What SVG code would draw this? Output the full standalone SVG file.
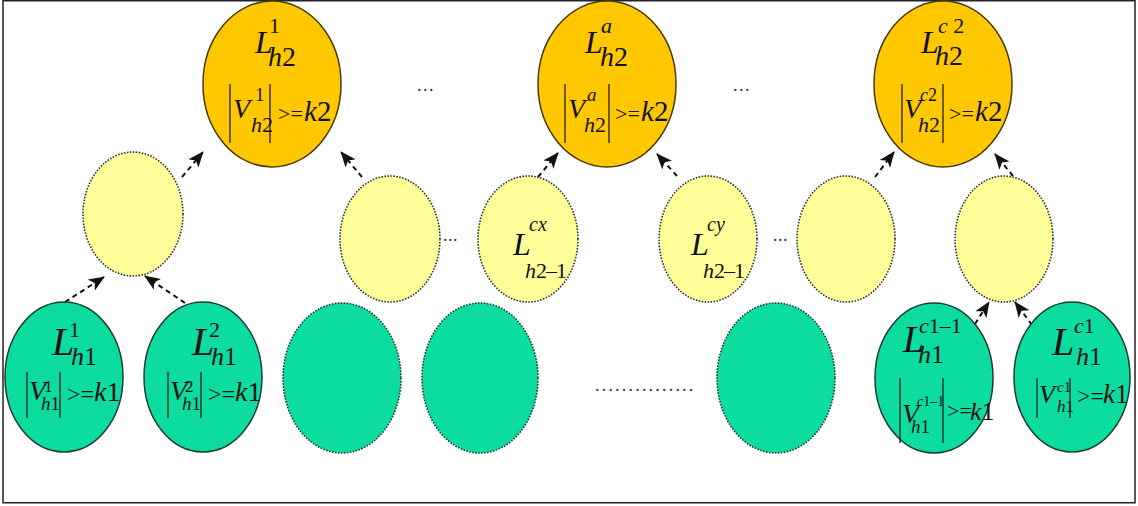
<svg xmlns="http://www.w3.org/2000/svg" width="1138" height="506" viewBox="0 0 1138 506" font-family="'Liberation Serif','Times New Roman','DejaVu Serif',serif">
<style>
text{font-family:'Liberation Serif','Times New Roman','DejaVu Serif',serif;fill:#111;}
.i{font-style:italic;}
.or{fill:#FFC800;stroke:#4a3a00;stroke-width:1.5;}
.ye{fill:#FFFF99;stroke:#333;stroke-width:1.6;stroke-dasharray:1.6 1.4;}
.gs{fill:#0DDCA0;stroke:#1c3d33;stroke-width:1.5;}
.gd{fill:#0DDCA0;stroke:#1c3d33;stroke-width:1.6;stroke-dasharray:1.6 1.4;}
.bar{stroke:#111;stroke-width:1.2;}
.cn{stroke:#111;stroke-width:2;stroke-dasharray:5 4;fill:none;marker-end:url(#ah);}
.dots{font-size:18px;fill:#333;}
</style>
<defs>
<marker id="ah" markerWidth="16" markerHeight="13" refX="15" refY="6.5" orient="auto" markerUnits="userSpaceOnUse">
<path d="M0,0 L16,6.5 L0,13 L4,6.5 z" fill="#111"/>
</marker>
</defs>
<rect x="3" y="0.75" width="1132" height="502" fill="#fff" stroke="#222" stroke-width="1.5"/>

<g id="connectors">
<line class="cn" x1="65" y1="302" x2="104" y2="277"/>
<line class="cn" x1="185" y1="303" x2="145" y2="276"/>
<line class="cn" x1="182" y1="177" x2="203" y2="152"/>
<line class="cn" x1="362" y1="177" x2="341" y2="152"/>
<line class="cn" x1="538" y1="177" x2="558" y2="153"/>
<line class="cn" x1="677" y1="176" x2="657" y2="154"/>
<line class="cn" x1="875" y1="177" x2="894" y2="152"/>
<line class="cn" x1="1013" y1="176" x2="995" y2="154"/>
<line class="cn" x1="975" y1="324" x2="989" y2="302"/>
<line class="cn" x1="1032" y1="325" x2="1015" y2="302"/>
</g>

<g id="orange1">
<ellipse class="or" cx="272" cy="84" rx="69" ry="83"/>
<line class="bar" x1="230" y1="84" x2="230" y2="143"/>
<line class="bar" x1="270" y1="84" x2="270" y2="143"/>
<text><tspan class="i" x="255" y="53" font-size="32">L</tspan><tspan x="269" y="33" font-size="22">1</tspan><tspan class="i" x="268" y="66" font-size="28">h</tspan><tspan font-size="28">2</tspan><tspan class="i" x="233" y="118" font-size="28">V</tspan><tspan x="255" y="101" font-size="19">1</tspan><tspan class="i" x="251" y="132" font-size="22">h</tspan><tspan font-size="22">2</tspan><tspan x="278" y="121" font-size="22">&gt;=</tspan><tspan class="i" x="304" y="121" font-size="29">k</tspan><tspan font-size="29">2</tspan></text>
</g>

<g id="orange2">
<ellipse class="or" cx="607" cy="84" rx="69" ry="83"/>
<line class="bar" x1="565" y1="84" x2="565" y2="143"/>
<line class="bar" x1="609" y1="84" x2="609" y2="143"/>
<text><tspan class="i" x="585" y="53" font-size="32">L</tspan><tspan class="i" x="601" y="33" font-size="22">a</tspan><tspan class="i" x="600" y="66" font-size="28">h</tspan><tspan font-size="28">2</tspan><tspan class="i" x="568" y="118" font-size="28">V</tspan><tspan class="i" x="587" y="101" font-size="19">a</tspan><tspan class="i" x="584" y="132" font-size="22">h</tspan><tspan font-size="22">2</tspan><tspan x="615" y="121" font-size="22">&gt;=</tspan><tspan class="i" x="641" y="121" font-size="29">k</tspan><tspan font-size="29">2</tspan></text>
</g>

<g id="orange3">
<ellipse class="or" cx="943" cy="84" rx="69" ry="83"/>
<line class="bar" x1="902" y1="84" x2="902" y2="143"/>
<line class="bar" x1="943" y1="84" x2="943" y2="143"/>
<text><tspan class="i" x="921" y="53" font-size="32">L</tspan><tspan class="i" x="938" y="33" font-size="22">c</tspan><tspan font-size="22"> 2</tspan><tspan class="i" x="935" y="65" font-size="28">h</tspan><tspan font-size="28">2</tspan><tspan class="i" x="904" y="118" font-size="28">V</tspan><tspan class="i" x="920" y="101" font-size="18">c</tspan><tspan font-size="18">2</tspan><tspan class="i" x="918" y="132" font-size="22">h</tspan><tspan font-size="22">2</tspan><tspan x="949" y="121" font-size="22">&gt;=</tspan><tspan class="i" x="975" y="121" font-size="29">k</tspan><tspan font-size="29">2</tspan></text>
</g>

<g id="yellow1"><ellipse class="ye" cx="133" cy="214" rx="50" ry="62"/></g>
<g id="yellow2"><ellipse class="ye" cx="390" cy="239" rx="50" ry="63"/></g>
<g id="yellow3">
<ellipse class="ye" cx="528" cy="239" rx="50" ry="63"/>
<text><tspan class="i" x="513" y="255" font-size="32">L</tspan><tspan class="i" x="529" y="231" font-size="20">cx</tspan><tspan class="i" x="525" y="278" font-size="22">h</tspan><tspan font-size="22" letter-spacing="-1">2–1</tspan></text>
</g>
<g id="yellow4">
<ellipse class="ye" cx="708" cy="239" rx="49" ry="63"/>
<text><tspan class="i" x="691" y="255" font-size="32">L</tspan><tspan class="i" x="707" y="231" font-size="20">cy</tspan><tspan class="i" x="703" y="278" font-size="22">h</tspan><tspan font-size="22" letter-spacing="-1">2–1</tspan></text>
</g>
<g id="yellow5"><ellipse class="ye" cx="846" cy="239" rx="49" ry="63"/></g>
<g id="yellow6"><ellipse class="ye" cx="1004" cy="239" rx="49" ry="63"/></g>

<g id="green1">
<ellipse class="gs" cx="64" cy="377" rx="59" ry="75"/>
<line class="bar" x1="27" y1="372" x2="27" y2="418"/>
<line class="bar" x1="60" y1="372" x2="60" y2="418"/>
<text><tspan class="i" x="52" y="355" font-size="40">L</tspan><tspan x="69" y="337" font-size="22">1</tspan><tspan class="i" x="71" y="365" font-size="26">h</tspan><tspan font-size="26">1</tspan><tspan class="i" x="29" y="400" font-size="28">V</tspan><tspan x="44" y="392" font-size="17">1</tspan><tspan class="i" x="41" y="410" font-size="19">h</tspan><tspan font-size="19">1</tspan><tspan x="67" y="402" font-size="24">&gt;=</tspan><tspan class="i" x="94" y="401" font-size="28">k</tspan><tspan font-size="28">1</tspan></text>
</g>

<g id="green2">
<ellipse class="gs" cx="203" cy="377" rx="59" ry="75"/>
<line class="bar" x1="168" y1="372" x2="168" y2="418"/>
<line class="bar" x1="201" y1="372" x2="201" y2="418"/>
<text><tspan class="i" x="192" y="355" font-size="40">L</tspan><tspan x="209" y="337" font-size="22">2</tspan><tspan class="i" x="211" y="365" font-size="26">h</tspan><tspan font-size="26">1</tspan><tspan class="i" x="170" y="400" font-size="28">V</tspan><tspan x="185" y="392" font-size="17">2</tspan><tspan class="i" x="182" y="410" font-size="19">h</tspan><tspan font-size="19">1</tspan><tspan x="208" y="402" font-size="24">&gt;=</tspan><tspan class="i" x="235" y="401" font-size="28">k</tspan><tspan font-size="28">1</tspan></text>
</g>

<g id="green3"><ellipse class="gd" cx="342" cy="378" rx="59" ry="75"/></g>
<g id="green4"><ellipse class="gd" cx="480" cy="378" rx="58" ry="75"/></g>
<g id="green5"><ellipse class="gd" cx="776" cy="378" rx="59" ry="75"/></g>

<g id="green6">
<ellipse class="gs" cx="934" cy="378" rx="59" ry="75"/>
<line class="bar" x1="900" y1="378" x2="900" y2="443"/>
<line class="bar" x1="943" y1="378" x2="943" y2="443"/>
<text><tspan class="i" x="903" y="352" font-size="38">L</tspan><tspan class="i" x="919" y="333" font-size="22">c</tspan><tspan font-size="22">1–1</tspan><tspan class="i" x="918" y="363" font-size="26">h</tspan><tspan font-size="26">1</tspan><tspan class="i" x="902" y="423" font-size="28">V</tspan><tspan class="i" x="917" y="406" font-size="14">c</tspan><tspan font-size="14">1–1</tspan><tspan class="i" x="911" y="433" font-size="19">h</tspan><tspan font-size="19">1</tspan><tspan x="947" y="418" font-size="22">&gt;=</tspan><tspan class="i" x="970" y="420" font-size="26">k</tspan><tspan font-size="26">1</tspan></text>
</g>

<g id="green7">
<ellipse class="gs" cx="1072" cy="377" rx="58" ry="75"/>
<line class="bar" x1="1037" y1="378" x2="1037" y2="418"/>
<line class="bar" x1="1070" y1="378" x2="1070" y2="418"/>
<text><tspan class="i" x="1052" y="355" font-size="40">L</tspan><tspan class="i" x="1074" y="333" font-size="22">c</tspan><tspan font-size="22">1</tspan><tspan class="i" x="1076" y="365" font-size="26">h</tspan><tspan font-size="26">1</tspan><tspan class="i" x="1039" y="403" font-size="26">V</tspan><tspan class="i" x="1057" y="392" font-size="15">c</tspan><tspan font-size="15">1</tspan><tspan class="i" x="1057" y="412" font-size="17">h</tspan><tspan font-size="17">1</tspan><tspan x="1077" y="404" font-size="24">&gt;=</tspan><tspan class="i" x="1103" y="403" font-size="27">k</tspan><tspan font-size="27">1</tspan></text>
</g>

<g id="ellipses">
<text class="dots" x="417" y="91" letter-spacing="1.5">...</text>
<text class="dots" x="733" y="91" letter-spacing="1.5">...</text>
<text class="dots" x="443" y="241" letter-spacing="0.5">...</text>
<text class="dots" x="773" y="241" letter-spacing="0.5">...</text>
<text class="dots" x="595" y="391" font-size="16" letter-spacing="2.2">...............</text>
</g>
</svg>
